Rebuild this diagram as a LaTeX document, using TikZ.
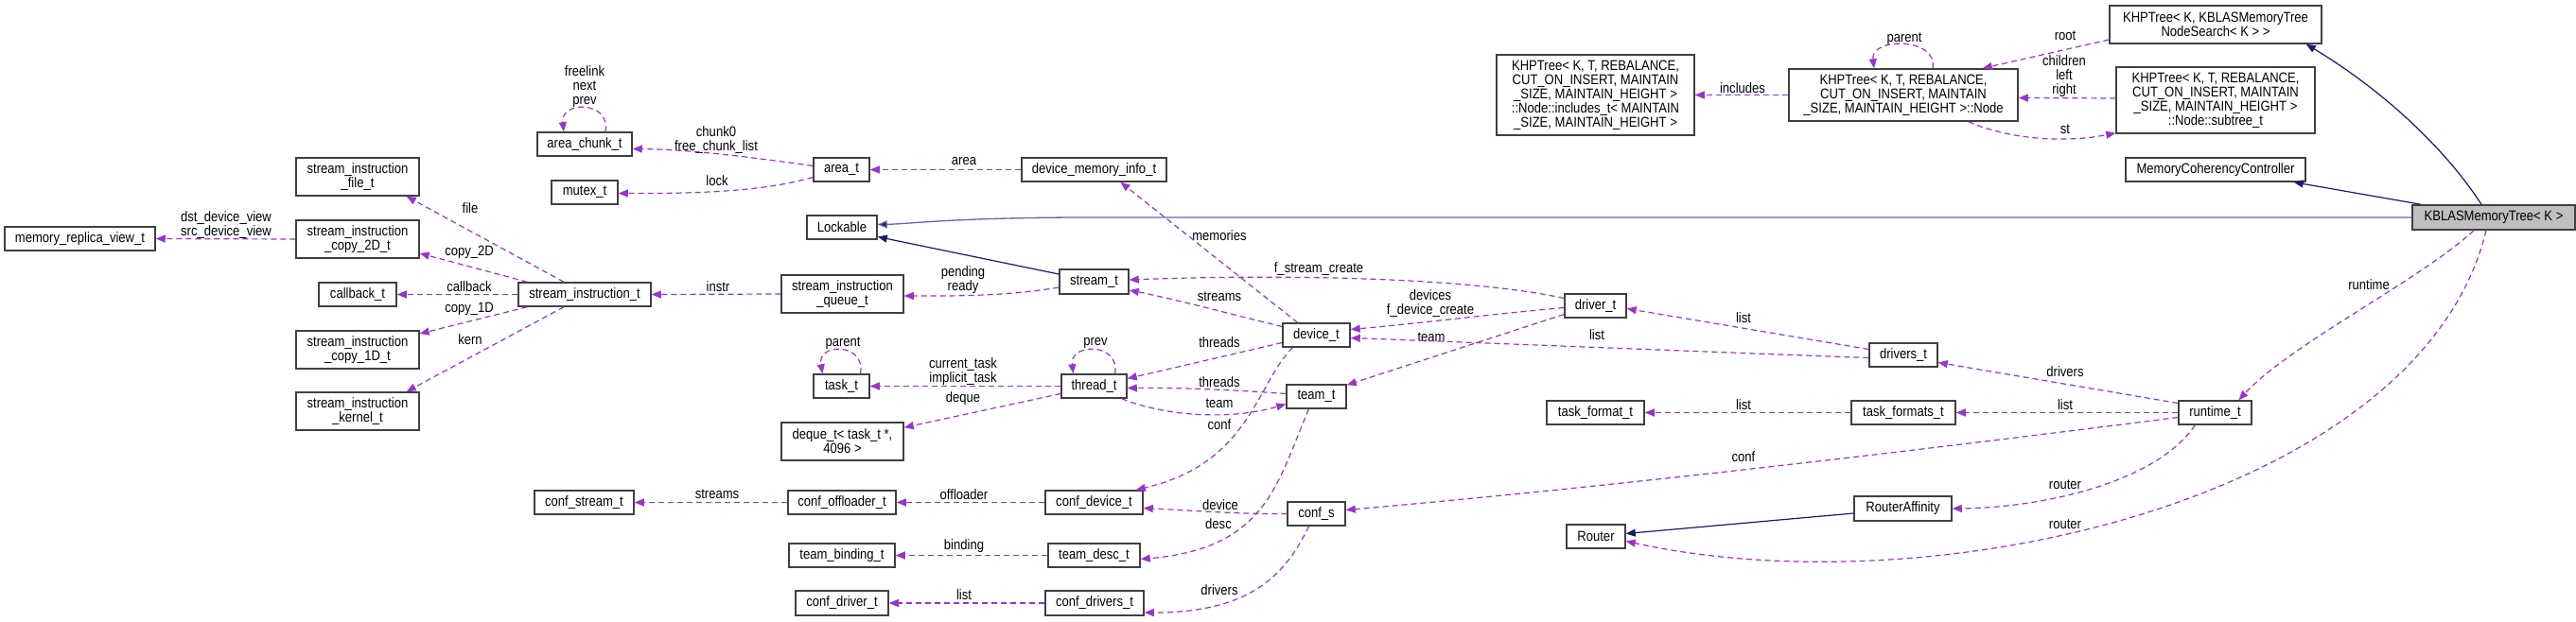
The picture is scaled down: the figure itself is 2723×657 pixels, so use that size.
\documentclass[tikz,border=0pt]{standalone}
\usepackage{fontspec}
\setmainfont{Liberation Sans}[FakeStretch=0.87]
\usetikzlibrary{arrows.meta,calc}
\definecolor{edgepurple}{HTML}{9A32CD}
\definecolor{inhblue}{HTML}{191970}
\definecolor{inhlight}{HTML}{6464A8}
\definecolor{boxborder}{HTML}{404040}
\definecolor{kfill}{HTML}{BFBFBF}
\tikzset{
 cls/.style={draw=boxborder, line width=1.5pt, fill=white, inner sep=0pt, align=center, font=\fontsize{15}{15}\selectfont},
 rel/.style={draw=edgepurple, line width=1.2pt, dash pattern=on 6pt off 4pt, -{Triangle[length=10pt,width=8pt,fill=edgepurple]}},
 inh/.style={draw=inhblue, line width=1.2pt, -{Triangle[length=10pt,width=8pt,fill=inhblue]}},
 inhl/.style={draw=inhlight, line width=1.3pt, -{Triangle[length=10pt,width=8pt,fill=inhblue]}},
 lbl/.style={inner sep=0pt, align=center, font=\fontsize{15}{15}\selectfont},
}
\newcommand{\bx}[6]{\node[cls, minimum width=#3pt, minimum height=#4pt, #5] (#1) at (#2) {#6};}
\begin{document}
\begin{tikzpicture}[x=1pt,y=-1pt]
\useasboundingbox (0,0) rectangle (2723,657);
% ---- nodes
\bx{memrep}{84.5,252.5}{159}{25}{}{memory\_replica\_view\_t}
\bx{sifile}{378,187}{130}{40}{}{stream\_instruction\\\_file\_t}
\bx{sicopytwo}{378,253}{130}{40}{}{stream\_instruction\\\_copy\_2D\_t}
\bx{callback}{378,311.5}{82}{25}{}{callback\_t}
\bx{sicopyone}{378,370}{130}{40}{}{stream\_instruction\\\_copy\_1D\_t}
\bx{sikernel}{378,435}{130}{40}{}{stream\_instruction\\\_kernel\_t}
\bx{areachunk}{618,152.5}{100}{25}{}{area\_chunk\_t}
\bx{mutex}{618,203.5}{70}{25}{}{mutex\_t}
\bx{sit}{618,311.5}{140}{25}{}{stream\_instruction\_t}
\bx{confstream}{617.5,531.5}{105}{25}{}{conf\_stream\_t}
\bx{area}{889.5,179.5}{59}{25}{}{area\_t}
\bx{lockable}{890,240.5}{74}{25}{}{Lockable}
\bx{siq}{890.5,311}{129}{40}{}{stream\_instruction\\\_queue\_t}
\bx{task}{889.5,408.5}{59}{25}{}{task\_t}
\bx{deque}{890.5,467}{129}{40}{}{deque\_t< task\_t *,\\4096 >}
\bx{confoffl}{890,531.5}{114}{25}{}{conf\_offloader\_t}
\bx{teambinding}{890,587.5}{112}{25}{}{team\_binding\_t}
\bx{confdriver}{890,638}{98}{26}{}{conf\_driver\_t}
\bx{dmi}{1156.5,179.5}{153}{25}{}{device\_memory\_info\_t}
\bx{stream}{1156.5,298}{73}{26}{}{stream\_t}
\bx{thread}{1156.5,408.5}{69}{25}{}{thread\_t}
\bx{confdevice}{1156.5,531.5}{103}{25}{}{conf\_device\_t}
\bx{teamdesc}{1156.5,587.5}{97}{25}{}{team\_desc\_t}
\bx{confdrivers}{1157,638}{104}{26}{}{conf\_drivers\_t}
\bx{device}{1391.5,354.5}{71}{25}{}{device\_t}
\bx{team}{1391.5,419.5}{63}{25}{}{team\_t}
\bx{confs}{1391.5,543.5}{61}{25}{}{conf\_s}
\bx{includes}{1686.5,100.5}{209}{85}{}{KHPTree< K, T, REBALANCE,\\CUT\_ON\_INSERT, MAINTAIN\\\_SIZE, MAINTAIN\_HEIGHT >\\::Node::includes\_t< MAINTAIN\\\_SIZE, MAINTAIN\_HEIGHT >}
\bx{driver}{1686.5,323.5}{65}{25}{}{driver\_t}
\bx{taskformat}{1686.5,436.5}{103}{25}{}{task\_format\_t}
\bx{router}{1687,567.5}{62}{25}{}{Router}
\bx{node}{2012,100.5}{242}{55}{}{KHPTree< K, T, REBALANCE,\\CUT\_ON\_INSERT, MAINTAIN\\\_SIZE, MAINTAIN\_HEIGHT >::Node}
\bx{drivers}{2012,375.5}{72}{25}{}{drivers\_t}
\bx{taskformats}{2012,436.5}{110}{25}{}{task\_formats\_t}
\bx{routeraff}{2011.5,538}{103}{26}{}{RouterAffinity}
\bx{khpkblas}{2342,26}{224}{40}{}{KHPTree< K, KBLASMemoryTree\\NodeSearch< K > >}
\bx{subtree}{2342,106}{210}{70}{}{KHPTree< K, T, REBALANCE,\\CUT\_ON\_INSERT, MAINTAIN\\\_SIZE, MAINTAIN\_HEIGHT >\\::Node::subtree\_t}
\bx{mcc}{2342,179.5}{190}{25}{}{MemoryCoherencyController}
\bx{runtime}{2341.5,436.5}{77}{25}{}{runtime\_t}
\bx{kblas}{2636,230}{172}{26}{fill=kfill}{KBLASMemoryTree< K >}
% ---- labels
\node[lbl] (lfree) at (618,92) {freelink\\next\\prev};
\node[lbl] (lchunk) at (757,148) {chunk0\\free\_chunk\_list};
\node[lbl] (llock) at (758,191) {lock};
\node[lbl] (larea) at (1019,171) {area};
\node[lbl] (lfile) at (497,220) {file};
\node[lbl] (ldst) at (239,238) {dst\_device\_view\\src\_device\_view};
\node[lbl] (lcopytwo) at (496,267) {copy\_2D};
\node[lbl] (lcallback) at (496,303) {callback};
\node[lbl] (lcopyone) at (496,327) {copy\_1D};
\node[lbl] (lkern) at (497,359) {kern};
\node[lbl] (linstr) at (759,303) {instr};
\node[lbl] (lpending) at (1018,296) {pending\\ready};
\node[lbl] (lmemories) at (1289,249) {memories};
\node[lbl] (lfstream) at (1394,285) {f\_stream\_create};
\node[lbl] (lstreams) at (1289,314) {streams};
\node[lbl] (lthreadsa) at (1289,362) {threads};
\node[lbl] (lthreadsb) at (1289,404) {threads};
\node[lbl] (lteama) at (1289,427) {team};
\node[lbl] (lconfa) at (1289,449) {conf};
\node[lbl] (lparenta) at (891,363) {parent};
\node[lbl] (lprev) at (1158,363) {prev};
\node[lbl] (lcurtask) at (1018,393) {current\_task\\implicit\_task};
\node[lbl] (ldeque) at (1018,422) {deque};
\node[lbl] (lstreamsb) at (758,523) {streams};
\node[lbl] (loffloader) at (1019,523) {offloader};
\node[lbl] (ldevice) at (1290,534) {device};
\node[lbl] (ldesc) at (1288,554) {desc};
\node[lbl] (lbinding) at (1019,578) {binding};
\node[lbl] (ldriversa) at (1289,624) {drivers};
\node[lbl] (llista) at (1019,629) {list};
\node[lbl] (ldevices) at (1512,321.5) {devices\\f\_device\_create};
\node[lbl] (lteamb) at (1513,357) {team};
\node[lbl] (llistb) at (1688,354) {list};
\node[lbl] (llistc) at (1843,336) {list};
\node[lbl] (llistd) at (1843,428) {list};
\node[lbl] (lconfb) at (1843,483) {conf};
\node[lbl] (ldriversb) at (2183,393) {drivers};
\node[lbl] (lliste) at (2183,428) {list};
\node[lbl] (lroutera) at (2183,513) {router};
\node[lbl] (lrouterb) at (2183,555) {router};
\node[lbl] (lruntime) at (2504,301) {runtime};
\node[lbl] (lincludes) at (1842,93) {includes};
\node[lbl] (lparentb) at (2013,41) {parent};
\node[lbl] (lroot) at (2183,38) {root};
\node[lbl] (lchildren) at (2182,80.5) {children\\left\\right};
\node[lbl] (lst) at (2183,137) {st};
% ---- inheritance edges
\draw[inhl] (kblas.west) -- (1150,230) .. controls (1010,230) and (960,237) .. ($(lockable.east)+(0,-3)$);
\draw[inh] ($(stream.west)+(0,-8)$) -- ($(lockable.east)+(0,10)$);
\draw[inh] ($(routeraff.west)+(0,5)$) -- ($(router.east)+(0,-3)$);
\draw[inh] ($(kblas.north)+(-13,0)$) .. controls (2580,150) and (2510,90) .. ($(khpkblas.south east)+(-17,0)$);
\draw[inh] ($(kblas.north west)+(10,0)$) -- ($(mcc.south east)+(-13,0)$);
% ---- usage edges
\draw[rel] ($(areachunk.north)+(22,0)$) .. controls ($(areachunk.north)+(28,-33)$) and ($(areachunk.north)+(-26,-33)$) .. ($(areachunk.north)+(-22,0)$);
\draw[rel] ($(area.west)+(0,-4)$) .. controls (800,167) and (730,158) .. ($(areachunk.east)+(0,5)$);
\draw[rel] ($(area.west)+(0,8)$) .. controls (815,200) and (760,205) .. ($(mutex.east)+(0,1)$);
\draw[rel] (dmi.west) -- (area.east);
\draw[rel] ($(device.north)+(-20,0)$) -- ($(dmi.south)+(28,0)$);
\draw[rel] ($(stream.west)+(0,6)$) .. controls (1060,314) and (1000,313) .. ($(siq.east)+(0,2)$);
\draw[rel] (siq.west) -- (sit.east);
\draw[rel] ($(sit.north)+(-22,0)$) -- ($(sifile.south east)+(-14,0)$);
\draw[rel] ($(sit.north west)+(10,0)$) -- ($(sicopytwo.east)+(0,15)$);
\draw[rel] (sit.west) -- (callback.east);
\draw[rel] ($(sit.south west)+(10,0)$) -- ($(sicopyone.east)+(0,-17)$);
\draw[rel] ($(sit.south)+(-22,0)$) -- ($(sikernel.north east)+(-14,0)$);
\draw[rel] (sicopytwo.west) -- (memrep.east);
\draw[rel] ($(driver.west)+(0,-8)$) .. controls (1550,293) and (1350,290) .. ($(stream.east)+(0,-2)$);
\draw[rel] ($(device.west)+(0,-9)$) .. controls (1300,332) and (1240,316) .. ($(stream.east)+(0,9)$);
\draw[rel] ($(device.west)+(0,8)$) -- ($(thread.east)+(0,-8)$);
\draw[rel] ($(team.west)+(0,-3)$) .. controls (1300,412) and (1240,410) .. ($(thread.east)+(0,2)$);
\draw[rel] ($(thread.south east)+(-6,0)$) .. controls (1230,440) and (1300,445) .. ($(team.west)+(0,8)$);
\draw[rel] ($(thread.north)+(22,0)$) .. controls ($(thread.north)+(28,-33)$) and ($(thread.north)+(-26,-33)$) .. ($(thread.north)+(-22,0)$);
\draw[rel] ($(task.north)+(20,0)$) .. controls ($(task.north)+(26,-33)$) and ($(task.north)+(-26,-33)$) .. ($(task.north)+(-20,0)$);
\draw[rel] (thread.west) -- (task.east);
\draw[rel] ($(thread.west)+(0,8)$) -- ($(deque.north east)+(0,6)$);
\draw[rel] ($(device.south)+(-25,0)$) .. controls (1328,405) and (1322,490) .. ($(confdevice.north east)+(-8,0)$);
\draw[rel] (confdevice.west) -- (confoffl.east);
\draw[rel] (confoffl.west) -- (confstream.east);
\draw[rel] (confs.west) .. controls (1310,544) and (1260,540) .. ($(confdevice.east)+(0,6)$);
\draw[rel] ($(team.south)+(-8,0)$) .. controls (1350,510) and (1340,580) .. ($(teamdesc.east)+(0,4)$);
\draw[rel] (teamdesc.west) -- (teambinding.east);
\draw[rel] ($(confs.south)+(-8,0)$) .. controls (1358,610) and (1320,648) .. ($(confdrivers.east)+(0,10)$);
\draw[rel] (confdrivers.west) -- (confdriver.east);
\draw[rel] ($(driver.west)+(0,2)$) .. controls (1580,332) and (1500,342) .. ($(device.east)+(0,-6)$);
\draw[rel] ($(driver.west)+(0,9)$) -- ($(team.north east)+(0,1)$);
\draw[rel] ($(drivers.west)+(0,-6)$) -- ($(driver.east)+(0,3)$);
\draw[rel] ($(drivers.west)+(0,3)$) .. controls (1800,372) and (1550,362) .. ($(device.east)+(0,3)$);
\draw[rel] ($(runtime.west)+(0,-10)$) -- ($(drivers.east)+(0,8)$);
\draw[rel] (runtime.west) -- (taskformats.east);
\draw[rel] (taskformats.west) -- (taskformat.east);
\draw[rel] ($(runtime.west)+(0,5)$) .. controls (2000,480) and (1700,515) .. ($(confs.east)+(0,-4)$);
\draw[rel] ($(runtime.south west)+(18,0)$) .. controls (2280,510) and (2160,537) .. (routeraff.east);
\draw[rel] ($(kblas.south)+(-8,0)$) .. controls (2560,525) and (2050,645) .. ($(router.east)+(0,5)$);
\draw[rel] ($(kblas.south)+(-21,0)$) .. controls (2560,295) and (2420,365) .. ($(runtime.north)+(25,0)$);
\draw[rel] ($(khpkblas.west)+(0,16)$) -- ($(node.north east)+(-38,0)$);
\draw[rel] ($(subtree.west)+(0,-2)$) -- ($(node.east)+(0,3)$);
\draw[rel] ($(node.south east)+(-53,0)$) .. controls (2130,150) and (2190,150) .. ($(subtree.south west)+(0,-1)$);
\draw[rel] ($(node.north)+(31,0)$) .. controls ($(node.north)+(37,-33)$) and ($(node.north)+(-35,-33)$) .. ($(node.north)+(-31,0)$);
\draw[rel] (node.west) -- (includes.east);
\end{tikzpicture}
\end{document}
